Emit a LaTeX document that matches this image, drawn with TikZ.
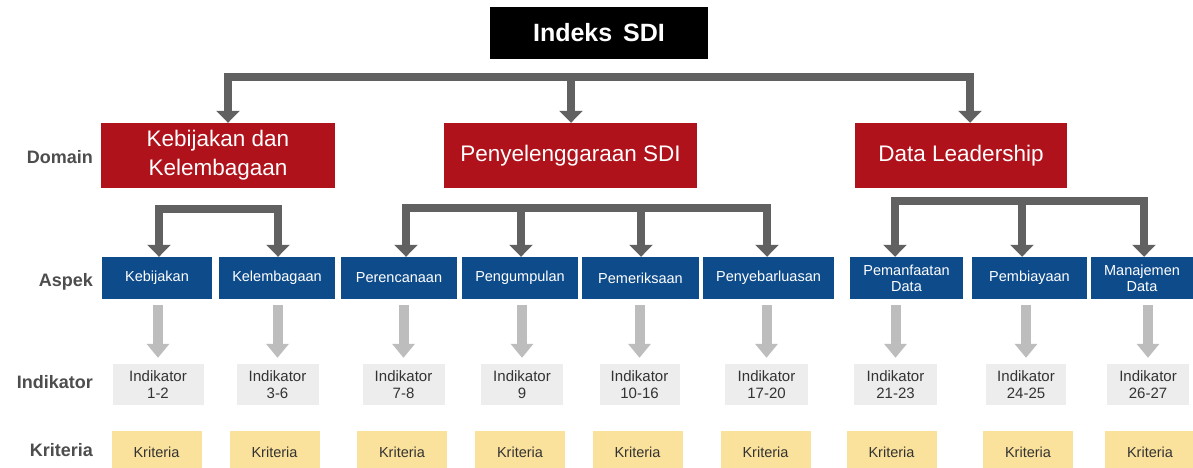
\documentclass[tikz,border=0pt]{standalone}
\usepackage{fontspec}
\setmainfont{Liberation Sans}
\usetikzlibrary{arrows.meta}
\definecolor{sdired}{HTML}{B0121B}
\definecolor{sdiblue}{HTML}{0E4B8B}
\definecolor{darkcon}{HTML}{616161}
\definecolor{lightcon}{HTML}{BDBDBD}
\definecolor{indfill}{HTML}{EDEDED}
\definecolor{krifill}{HTML}{FBE29C}
\definecolor{labcol}{HTML}{4D4D4D}
\definecolor{boxtext}{HTML}{333333}
\tikzset{
  topbox/.style={fill=black, text=white, inner sep=0pt, minimum width=218pt, minimum height=52pt, font=\fontsize{25}{28}\selectfont\bfseries},
  redbox/.style={fill=sdired, text=white, inner sep=0pt, minimum height=65pt, align=center, font=\fontsize{22.5}{29}\selectfont},
  bluebox/.style={fill=sdiblue, text=white, inner sep=0pt, minimum height=42pt, align=center, font=\fontsize{14.5}{16}\selectfont},
  indbox/.style={fill=indfill, text=boxtext, inner sep=0pt, minimum height=41pt, align=center, font=\fontsize{15}{17}\selectfont},
  kribox/.style={fill=krifill, text=boxtext, inner sep=0pt, minimum width=90pt, minimum height=42pt, font=\fontsize{14.5}{16}\selectfont},
  rowlabel/.style={anchor=east, text=labcol, font=\fontsize{18}{20}\selectfont\bfseries, inner sep=0pt},
  darkbar/.style={draw=darkcon, line width=8pt, line cap=rect},
  darkarrow/.style={draw=darkcon, line width=8pt, -{Triangle[width=23pt,length=12pt]}},
  lightarrow/.style={draw=lightcon, line width=10pt, shorten <=6pt, shorten >=6pt, -{Triangle[width=22pt,length=14pt]}}
}
\begin{document}
\begin{tikzpicture}[x=1pt,y=-1pt]
\useasboundingbox[fill=white] (0,0) rectangle (1193,468);

% top
\node[topbox] (top) at (599,33) {Indeks\hspace{4pt} SDI};

% domains
\node[redbox, minimum width=234pt] (d1) at (218,155.5) {Kebijakan dan\\Kelembagaan};
\node[redbox, minimum width=253pt] (d2) at (570.5,155.5) {Penyelenggaraan SDI};
\node[redbox, minimum width=212pt] (d3) at (961,155.5) {Data Leadership};

% aspek
\node[bluebox, minimum width=110pt] (a1) at (157,278) {Kebijakan};
\node[bluebox, minimum width=116pt] (a2) at (277,278) {Kelembagaan};
\node[bluebox, minimum width=116pt] (a3) at (399,278) {Perencanaan};
\node[bluebox, minimum width=116pt] (a4) at (520,278) {Pengumpulan};
\node[bluebox, minimum width=117pt] (a5) at (640.5,278) {Pemeriksaan};
\node[bluebox, minimum width=131pt] (a6) at (768.5,278) {Penyebarluasan};
\node[bluebox, minimum width=113pt] (a7) at (906.5,278) {Pemanfaatan\\Data};
\node[bluebox, minimum width=115pt] (a8) at (1029.5,278) {Pembiayaan};
\node[bluebox, minimum width=102pt] (a9) at (1142,278) {Manajemen\\Data};

% indikator
\node[indbox, minimum width=91pt] (i1) at (158,384.5) {Indikator\\1-2};
\node[indbox, minimum width=82pt] (i2) at (277.5,384.5) {Indikator\\3-6};
\node[indbox, minimum width=82pt] (i3) at (403.5,384.5) {Indikator\\7-8};
\node[indbox, minimum width=82pt] (i4) at (522,384.5) {Indikator\\9};
\node[indbox, minimum width=80pt] (i5) at (639.5,384.5) {Indikator\\10-16};
\node[indbox, minimum width=83pt] (i6) at (766.5,384.5) {Indikator\\17-20};
\node[indbox, minimum width=83pt] (i7) at (895.5,384.5) {Indikator\\21-23};
\node[indbox, minimum width=80pt] (i8) at (1026,384.5) {Indikator\\24-25};
\node[indbox, minimum width=82pt] (i9) at (1148,384.5) {Indikator\\26-27};

% kriteria
\node[kribox] (k1) at (156.5,452) {Kriteria};
\node[kribox] (k2) at (274.5,452) {Kriteria};
\node[kribox] (k3) at (402,452) {Kriteria};
\node[kribox] (k4) at (520,452) {Kriteria};
\node[kribox] (k5) at (637.5,452) {Kriteria};
\node[kribox] (k6) at (765.5,452) {Kriteria};
\node[kribox] (k7) at (891.5,452) {Kriteria};
\node[kribox] (k8) at (1028,452) {Kriteria};
\node[kribox] (k9) at (1150,452) {Kriteria};

% row labels
\node[rowlabel] (ldom) at (93,157) {Domain};
\node[rowlabel] (lasp) at (93,282) {Aspek};
\node[rowlabel] (lind) at (93,382) {Indikator};
\node[rowlabel] (lkri) at (93,450) {Kriteria};

% top bracket
\coordinate (t1) at (228,77);
\coordinate (t2) at (571,77);
\coordinate (t3) at (970,77);
\draw[darkbar] (t1) -- (t3);
\draw[darkarrow] (t1) -- (d1.north -| t1);
\draw[darkarrow] (t2) -- (d2.north -| t2);
\draw[darkarrow] (t3) -- (d3.north -| t3);

% bracket domain 1
\coordinate (p1) at (159,209);
\coordinate (p2) at (278,209);
\draw[darkbar] (p1) -- (p2);
\draw[darkarrow] (p1) -- (a1.north -| p1);
\draw[darkarrow] (p2) -- (a2.north -| p2);

% bracket domain 2
\coordinate (q1) at (406,208);
\coordinate (q2) at (521,208);
\coordinate (q3) at (641,208);
\coordinate (q4) at (767,208);
\draw[darkbar] (q1) -- (q4);
\draw[darkarrow] (q1) -- (a3.north -| q1);
\draw[darkarrow] (q2) -- (a4.north -| q2);
\draw[darkarrow] (q3) -- (a5.north -| q3);
\draw[darkarrow] (q4) -- (a6.north -| q4);

% bracket domain 3
\coordinate (r1) at (895,201);
\coordinate (r2) at (1022,201);
\coordinate (r3) at (1144,201);
\draw[darkbar] (r1) -- (r3);
\draw[darkarrow] (r1) -- (a7.north -| r1);
\draw[darkarrow] (r2) -- (a8.north -| r2);
\draw[darkarrow] (r3) -- (a9.north -| r3);

% aspek -> indikator
\draw[lightarrow] (a1.south -| i1.north) -- (i1.north);
\draw[lightarrow] (a2.south -| i2.north) -- (i2.north);
\draw[lightarrow] (a3.south -| i3.north) -- (i3.north);
\draw[lightarrow] (a4.south -| i4.north) -- (i4.north);
\draw[lightarrow] (a5.south -| i5.north) -- (i5.north);
\draw[lightarrow] (a6.south -| i6.north) -- (i6.north);
\draw[lightarrow] (a7.south -| i7.north) -- (i7.north);
\draw[lightarrow] (a8.south -| i8.north) -- (i8.north);
\draw[lightarrow] (a9.south -| i9.north) -- (i9.north);
\end{tikzpicture}
\end{document}
